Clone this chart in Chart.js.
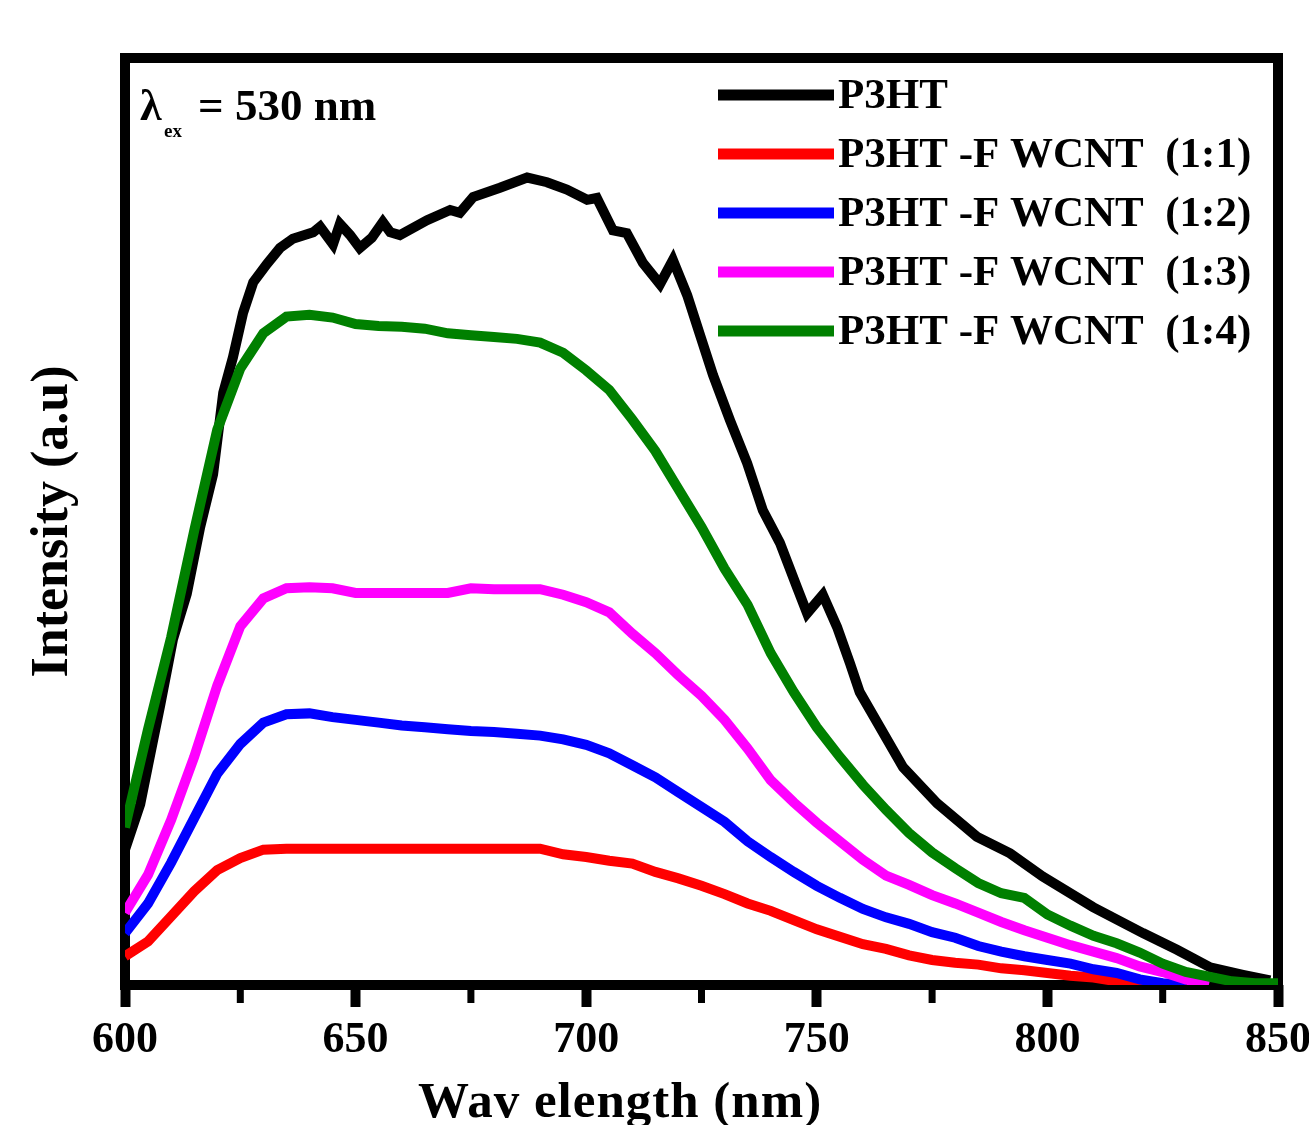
<!DOCTYPE html>
<html>
<head>
<meta charset="utf-8">
<script src="https://cdn.jsdelivr.net/npm/chart.js@4.4.1/dist/chart.umd.min.js"></script>
<style>
  html,body{margin:0;padding:0;background:#fff;}
  canvas{display:block;}
</style>
</head>
<body>
<canvas id="pl" width="1309" height="1125"></canvas>
<script>
// wavelength grid (nm) shared by the four composite spectra
const wl = [600,605,610,615,620,625,630,635,640,645,650,655,660,665,670,675,680,685,690,695,
  700,705,710,715,720,725,730,735,740,745,750,755,760,765,770,775,780,785,790,795,
  800,805,810,815,820,825,830,835,840,845,850];

// P3HT is noisier, read on its own finer grid
const wlP3HT = [600,603.3,605,607.6,610.4,613.4,616.3,619.1,621.3,623.4,625.6,627.8,630.8,633.6,636.4,
  640.8,642.3,645.1,646.6,648.8,650.9,653.5,655.9,657.5,659.6,665.5,670.5,672.6,675.5,681.3,
  687.2,691.5,695.8,700.2,702.3,705.8,708.8,712.3,716.0,718.8,721.9,724.7,727.5,731.2,734.9,
  738.3,742.0,745.7,747.9,751.3,754.4,757.2,759.3,763.7,768.7,776.1,784.7,791.9,799.0,809.9,
  820.7,828.1,835.3,842.4,848.3];
const p3ht = [14.6,19.5,23.7,30.1,37.3,42.2,49.4,55.1,63.9,67.7,72.5,75.8,77.8,79.5,80.5,
  81.2,81.8,79.9,82.1,80.9,79.5,80.6,82.3,81.2,80.9,82.5,83.6,83.3,85.0,86.0,
  87.1,86.6,85.8,84.7,84.9,81.4,81.1,77.9,75.6,78.2,74.4,70.1,65.8,60.9,56.3,
  51.2,47.7,42.9,40.1,42.1,38.6,34.7,31.6,27.8,23.5,19.6,16.0,14.2,11.7,8.4,
  5.6,3.8,1.9,1.1,0.5];

const fw11 = [3.1,4.7,7.4,10.1,12.4,13.7,14.6,14.7,14.7,14.7,14.7,14.7,14.7,14.7,14.7,14.7,14.7,14.7,14.7,14.1,
  13.8,13.4,13.1,12.2,11.5,10.7,9.8,8.8,8.0,7.0,6.0,5.2,4.4,3.9,3.2,2.7,2.4,2.2,1.8,1.6,
  1.3,1.0,0.8,0.4,0.2,0.0];
const fw12 = [5.6,8.8,13.2,18.0,22.8,26.0,28.3,29.2,29.3,28.9,28.6,28.3,28.0,27.8,27.6,27.4,27.3,27.1,26.9,26.5,
  25.9,25.0,23.7,22.4,20.8,19.2,17.6,15.5,13.8,12.2,10.7,9.4,8.2,7.3,6.6,5.7,5.1,4.2,3.6,3.1,
  2.7,2.3,1.7,1.3,0.6,0.2,0.0];
const fw13 = [7.8,11.9,17.8,24.6,32.3,38.7,41.7,42.8,42.9,42.8,42.3,42.3,42.3,42.3,42.3,42.8,42.7,42.7,42.7,42.1,
  41.3,40.2,37.9,35.8,33.4,31.2,28.6,25.5,22.1,19.7,17.5,15.5,13.5,11.8,10.8,9.7,8.8,7.8,6.8,5.9,
  5.1,4.3,3.6,2.9,2.0,1.4,0.6,0.0];
const fw14 = [17.0,27.6,37.5,49.0,59.9,66.5,70.3,72.1,72.3,72.0,71.3,71.1,71.0,70.8,70.3,70.1,69.9,69.7,69.3,68.2,
  66.3,64.2,61.0,57.6,53.5,49.4,44.9,41.0,35.8,31.6,27.8,24.6,21.6,18.9,16.4,14.3,12.6,11.0,9.9,9.4,
  7.6,6.4,5.3,4.5,3.5,2.3,1.4,0.9,0.4,0.2,0.2];

const labels = ['P3HT','P3HT -F WCNT  (1:1)','P3HT -F WCNT  (1:2)','P3HT -F WCNT  (1:3)','P3HT -F WCNT  (1:4)'];
const colors = ['#000000','#ff0000','#0000ff','#ff00ff','#008000'];
const minorTicks = [625,675,725,775,825];

const SERIF = "'Liberation Serif','Times New Roman',serif";

function pts(xs, ys){ return ys.map((y,i)=>({x:xs[i], y:y})); }

const series = [pts(wlP3HT,p3ht), pts(wl,fw11), pts(wl,fw12), pts(wl,fw13), pts(wl,fw14)];
const datasets = series.map((d,i)=>({
  label: labels[i], data: d, borderColor: colors[i], backgroundColor: colors[i],
  borderWidth: 10, pointRadius: 0, tension: 0, fill: false,
  order: 5 - i   // later series painted on top, like the original
}));

const frame = {
  id:'frame',
  beforeDatasetsDraw(c){
    const a = c.chartArea, ctx = c.ctx, xs = c.scales.x;
    ctx.save();
    ctx.strokeStyle = '#000'; ctx.fillStyle = '#000'; ctx.lineWidth = 10;
    ctx.strokeRect(a.left, a.top, a.right - a.left, a.bottom - a.top);
    minorTicks.forEach(v=>{
      const px = xs.getPixelForValue(v);
      ctx.fillRect(px - 3.5, a.bottom, 7, 18);
    });
    ctx.restore();
  }
};

const legendIn = {
  id:'legendIn',
  afterDatasetsDraw(c){
    const ctx = c.ctx;
    ctx.save();
    c.data.datasets.forEach((ds,i)=>{
      const y = 95 + i*59;
      ctx.strokeStyle = ds.borderColor; ctx.lineWidth = 11; ctx.lineCap = 'butt';
      ctx.beginPath(); ctx.moveTo(718, y); ctx.lineTo(834, y); ctx.stroke();
      ctx.fillStyle = '#000'; ctx.textBaseline = 'middle'; ctx.textAlign = 'left';
      ctx.font = 'bold 43px ' + SERIF;
      ctx.fillText(ds.label, 838, y + 2);
    });
    // excitation note
    ctx.fillStyle = '#000'; ctx.textBaseline = 'alphabetic';
    ctx.font = 'bold 44px ' + SERIF;
    ctx.fillText('\u03bb', 140, 120);
    ctx.font = 'bold 19px ' + SERIF;
    ctx.fillText('ex', 164, 137);
    ctx.font = 'bold 45px ' + SERIF;
    ctx.fillText('= 530 nm', 198, 120);
    // x axis title sits left of centre in the original
    ctx.font = 'bold 51px ' + SERIF;
    ctx.letterSpacing = '1px';
    ctx.fillText('Wav elength (nm)', 418, 1117);
    ctx.restore();
  }
};

new Chart(document.getElementById('pl'), {
  type:'line',
  data:{ datasets: datasets },
  options:{
    responsive:false, devicePixelRatio:1, animation:false,
    layout:{ padding:{ top:58, right:31, left:0, bottom:0 } },
    plugins:{ legend:{display:false}, tooltip:{enabled:false} },
    scales:{
      x:{
        type:'linear', min:600, max:850,
        ticks:{ stepSize:50, color:'#000', maxRotation:0, padding:7,
          font:{ family:SERIF, size:44, weight:'bold' } },
        grid:{ display:true, drawOnChartArea:false, drawTicks:true, tickLength:22, tickWidth:10, tickColor:'#000' },
        border:{ display:false },
        title:{ display:false },
        afterFit(s){ s.height = 140; s.paddingLeft = 0; s.paddingRight = 0; }
      },
      y:{
        min:0, max:100,
        ticks:{ display:false },
        grid:{ display:false },
        border:{ display:false },
        title:{ display:true, text:'Intensity (a.u)', color:'#000',
          font:{ family:SERIF, size:52, weight:'bold', lineHeight:1.0 }, padding:{top:28,bottom:0} },
        afterFit(s){ s.width = 125; }
      }
    }
  },
  plugins:[frame, legendIn]
});
</script>
</body>
</html>
